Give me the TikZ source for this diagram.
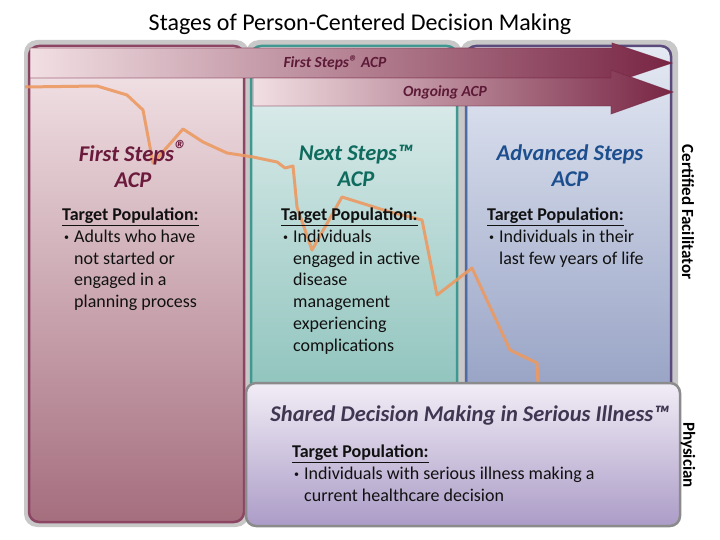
\documentclass[tikz,border=0pt]{standalone}
\usepackage{fontspec}
\setmainfont{Carlito}

\definecolor{framegrey}{HTML}{C8C8C8}
\definecolor{fsborder}{HTML}{8C4563}
\definecolor{fstop}{HTML}{F4E6E9}
\definecolor{fsbottom}{HTML}{A56E7E}
\definecolor{nsborder}{HTML}{3F9990}
\definecolor{nstop}{HTML}{E6F1F1}
\definecolor{nsbottom}{HTML}{8EC3BC}
\definecolor{asborder}{HTML}{4D6CA6}
\definecolor{asright}{HTML}{5B4A7C}
\definecolor{astop}{HTML}{E4E9F3}
\definecolor{asbottom}{HTML}{96A1C4}
\definecolor{arrowlight}{HTML}{F1DFE3}
\definecolor{arrowdark}{HTML}{782543}
\definecolor{arrowtext}{HTML}{5C1A36}
\definecolor{pathorange}{HTML}{EC9A62}
\definecolor{boxgrey}{HTML}{8B8B8B}
\definecolor{sdtop}{HTML}{F1EDF6}
\definecolor{sdbottom}{HTML}{AB9CC7}
\definecolor{sdtext}{HTML}{3F3752}
\definecolor{fstext}{HTML}{6B1A3C}
\definecolor{nstext}{HTML}{0E6B5E}
\definecolor{astext}{HTML}{1D4F8F}
\definecolor{bodyblack}{HTML}{111111}

\newcommand{\poptitle}{\underline{\textbf{Target Population:}}}
\newcommand{\bul}{\makebox[12pt][l]{\hspace{2pt}\raisebox{2pt}{\fontsize{10}{10}\selectfont\textbullet}}}
\newcommand{\ind}{\hspace*{12pt}}
\newcommand{\regmark}{\raisebox{3pt}{\fontsize{26}{26}\selectfont\textregistered}}

\tikzset{
  heading/.style={font=\fontsize{22.5}{26}\selectfont\bfseries\itshape, align=center},
  poptext/.style={font=\fontsize{18}{21.7}\selectfont, align=left, anchor=north west,
    inner sep=0pt, text=bodyblack},
  arrowlabel/.style={font=\fontsize{15.5}{17}\selectfont\bfseries\itshape, text=arrowtext},
  sidelabel/.style={font=\fontsize{17}{19}\selectfont\bfseries, rotate=-90, text=black},
  stagearrow/.style={left color=arrowlight, middle color=arrowlight, right color=arrowdark,
    draw=arrowdark, draw opacity=0.6, line width=0.8pt}
}

\begin{document}
\begin{tikzpicture}[x=1pt,y=-1pt]
\useasboundingbox (0,0) rectangle (720,540);
\fill [white] (0,0) rectangle (720,540);

\node [font=\fontsize{24}{28}\selectfont] (title) at (360,24) {Stages of Person-Centered Decision Making};

% panels
\fill [framegrey, rounded corners=13pt] (24,40) rectangle (249,527);
\draw [fsborder, line width=2.5pt, rounded corners=10pt, top color=fstop, bottom color=fsbottom] (29,46) rectangle (244,522);
\fill [framegrey, rounded corners=13pt] (246,40) rectangle (462,400);
\draw [nsborder, line width=2.5pt, rounded corners=10pt, top color=nstop, bottom color=nsbottom] (251,46) rectangle (457,400);
\fill [framegrey, rounded corners=13pt] (460,40) rectangle (678,400);
\draw [asright, line width=2.5pt, rounded corners=10pt, top color=astop, bottom color=asbottom] (466,46) rectangle (671,400);
\draw [asborder, line width=2.5pt] (466,60) -- (466,398);

% arrows
\draw [stagearrow] (30,48) -- (612,48) -- (612,43) -- (672,63) -- (612,83) -- (612,78) -- (30,78) -- cycle;
\draw [stagearrow] (253,78) -- (611,78) -- (611,70) -- (673,92) -- (611,114) -- (611,106) -- (253,106) -- cycle;
\node [arrowlabel] (fsarrow) at (335,63) {First Steps{\fontsize{17}{17}\selectfont\textregistered} ACP};
\node [arrowlabel] (ogarrow) at (445,92) {Ongoing ACP};

% path of decline
\draw [pathorange, line width=3pt, line join=round, opacity=0.9] (25,87) -- (97,86) -- (127,95) -- (143,110) -- (153,163) -- (183,129) -- (203,142) -- (227,153) -- (253,157) -- (277,162) -- (285,168) -- (293,166) -- (297,207) -- (312,250) -- (342,197) -- (390,212) -- (422,220) -- (437,295) -- (472,268) -- (510,350) -- (537,363) -- (538,384);

% shared decision box
\draw [boxgrey, line width=2.5pt, rounded corners=10pt, top color=sdtop, bottom color=sdbottom] (246,383) rectangle (680,526);

% headings
\node [heading, text=fstext] (fshead) at (133,164) {First Steps\regmark\\ACP};
\node [heading, text=nstext] (nshead) at (356,166) {Next Steps\texttrademark\\ACP};
\node [heading, text=astext] (ashead) at (570,166) {Advanced Steps\\ACP};
\node [heading, text=sdtext] (sdhead) at (470,415) {Shared Decision Making in Serious Illness\texttrademark};

% target populations
\node [poptext] (fspop) at (62,208) {\poptitle\\\bul Adults who have\\\ind not started or\\\ind engaged in a\\\ind planning process};
\node [poptext] (nspop) at (281,208) {\poptitle\\\bul Individuals\\\ind engaged in active\\\ind disease\\\ind management\\\ind experiencing\\\ind complications};
\node [poptext] (aspop) at (487,208) {\poptitle\\\bul Individuals in their\\\ind last few years of life};
\node [poptext] (sdpop) at (292,445) {\poptitle\\\bul Individuals with serious illness making a\\\ind current healthcare decision};

% roles
\node [sidelabel] (facilitator) at (688,212) {Certified Facilitator};
\node [sidelabel] (physician) at (688,455) {Physician};
\end{tikzpicture}
\end{document}
